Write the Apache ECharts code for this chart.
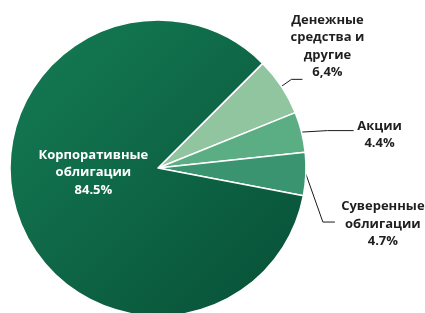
<!DOCTYPE html>
<html>
<head>
<meta charset="utf-8">
<script src="https://cdn.jsdelivr.net/npm/echarts@6/dist/echarts.min.js"></script>
<style>
  html, body { margin: 0; padding: 0; background: #fff; }
  #chart { width: 425px; height: 313px; }
</style>
</head>
<body>
<div id="chart"></div>
<script>
// данные
let names = ['Денежные средства и другие', 'Акции', 'Суверенные облигации', 'Корпоративные облигации']
let nameLines = ['Денежные\nсредства и\nдругие', 'Акции', 'Суверенные\nоблигации', 'Корпоративные\nоблигации']
let values = [6.4, 4.4, 4.7, 84.5]
let valueLabels = ['6,4%', '4.4%', '4.7%', '84.5%']

// цвета секторов
let colors = [
  '#90c5a0',
  '#5bae84',
  '#3b9470',
  new echarts.graphic.LinearGradient(0, 0, 1, 1, [
    {offset: 0, color: '#157d55'},
    {offset: 1, color: '#074f37'}
  ])
]

// выноски: [dx1, dy1, dx2, dy2, смещение текста x, y]
let guides = [
  [10, -7, 11, 0, 25, -33],
  [26, -1.5, 26, 0, 26, 4],
  [17, 48, 12, 0, 48, 2]
]

let el = document.querySelector('#chart')
let chart = echarts.init(el)

let data = names.map((n, i) => ({
  name: n,
  value: values[i],
  itemStyle: {color: colors[i]},
  label: i === 3
    ? {position: 'inside', color: '#ffffff'}
    : {position: 'outside', color: '#1f1f1f'},
  labelLine: {show: i !== 3}
}))

chart.setOption({
  animation: false,
  series: [{
    type: 'pie',
    center: [158, 168],
    radius: 148,
    startAngle: 45,
    clockwise: true,
    avoidLabelOverlap: false,
    itemStyle: {borderColor: '#ffffff', borderWidth: 1.5},
    label: {
      formatter: p => nameLines[p.dataIndex] + '\n' + valueLabels[p.dataIndex],
      fontFamily: 'Open Sans',
      fontWeight: 'bold',
      fontSize: 13,
      lineHeight: 17.5
    },
    labelLine: {
      length: 8,
      length2: 8,
      lineStyle: {color: '#1a1a1a', width: 1}
    },
    labelLayout: function (params) {
      let i = params.dataIndex
      if (i === 3) {
        let r = params.labelRect
        return {
          x: r.x + r.width / 2 + 9,
          y: r.y + r.height / 2 - 18,
          align: 'center',
          verticalAlign: 'middle'
        }
      }
      let g = guides[i]
      let p0 = params.labelLinePoints[0]
      let p1 = [p0[0] + g[0], p0[1] + g[1]]
      let p2 = [p1[0] + g[2], p1[1] + g[3]]
      return {
        x: p2[0] + g[4],
        y: p2[1] + g[5],
        align: 'center',
        verticalAlign: 'middle',
        labelLinePoints: [p0, p1, p2]
      }
    },
    data: data
  }]
})
</script>
</body>
</html>
